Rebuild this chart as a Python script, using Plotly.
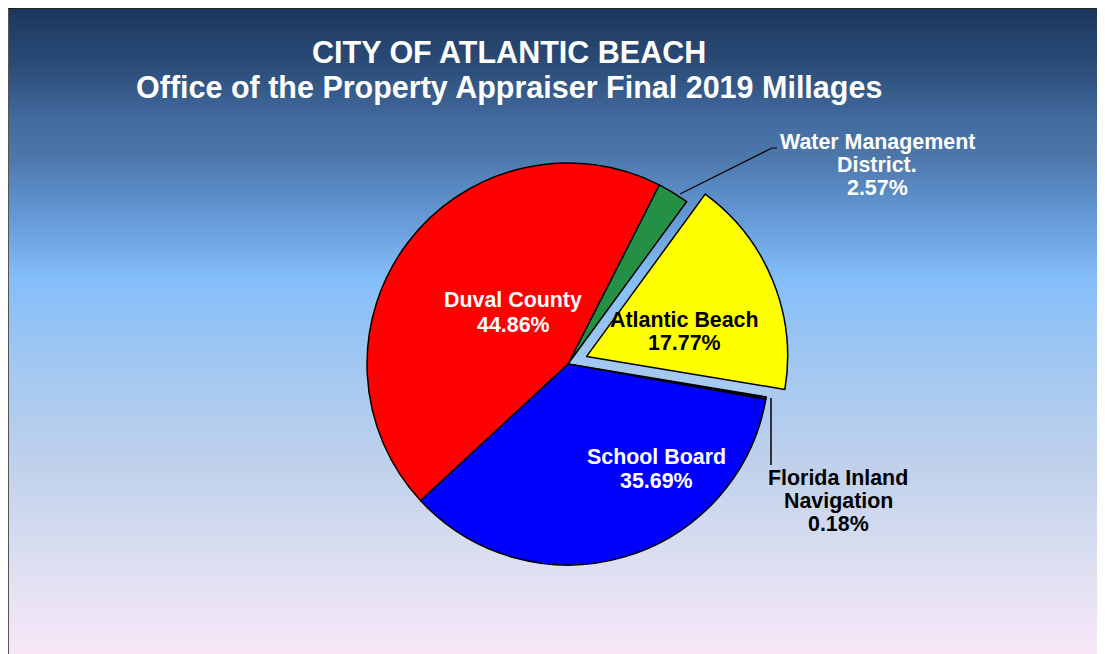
import zlib, struct, base64
import plotly.graph_objects as go

# ---------------- data ----------------
labels = ["Water Management<br>District.", "Atlantic Beach", "Florida Inland<br>Navigation",
          "School Board", "Duval County"]
values = [2.57, 17.77, 0.18, 35.69, 44.86]
colors = ["#239046", "#FFFF00", "#4B0B4B", "#0000FF", "#FF0000"]
pulls = [0, 0.1, 0, 0, 0]
label_font_colors = ["white", "black", "black", "white", "white"]
title_lines = ["CITY OF ATLANTIC BEACH", "Office of the Property Appraiser Final 2019 Millages"]

W, H = 1105, 654
OFF = 8  # page body margin
def px(x): return (x - OFF) / W
def py(y): return 1 - (y - OFF) / H

# ---------------- background gradient (styling) ----------------
stops = [(0, (27, 54, 94)), (60, (44, 78, 122)), (110, (66, 106, 158)), (150, (78, 120, 172)),
         (200, (96, 148, 208)), (270, (132, 190, 250)), (350, (160, 199, 242)),
         (450, (190, 208, 236)), (540, (216, 221, 240)), (600, (234, 227, 245)), (654, (250, 232, 248))]
def grad_png(h):
    rows = []
    for i in range(h):
        c = stops[-1][1]
        for j in range(len(stops) - 1):
            y0, c0 = stops[j]; y1, c1 = stops[j + 1]
            if y0 <= i <= y1:
                t = (i - y0) / (y1 - y0)
                c = tuple(int(round(c0[k] + (c1[k] - c0[k]) * t)) for k in range(3))
                break
        rows.append(b"\x00" + bytes(c) * 2)
    raw = b"".join(rows)
    def chunk(tag, data):
        return struct.pack(">I", len(data)) + tag + data + struct.pack(">I", zlib.crc32(tag + data) & 0xffffffff)
    png = (b"\x89PNG\r\n\x1a\n" + chunk(b"IHDR", struct.pack(">IIBBBBB", 2, h, 8, 2, 0, 0, 0))
           + chunk(b"IDAT", zlib.compress(raw)) + chunk(b"IEND", b""))
    return "data:image/png;base64," + base64.b64encode(png).decode()

FONT = "Liberation Sans, Arial, sans-serif"

# ---------------- pie ----------------
cx, cy, r = 568, 364, 201
half = r * 1.1
fig = go.Figure(go.Pie(
    labels=labels, values=values, sort=False, direction="clockwise", rotation=27,
    pull=pulls, marker=dict(colors=colors, line=dict(color="black", width=1.5)),
    textinfo="none", hoverinfo="label+percent", showlegend=False,
    domain=dict(x=[px(cx - half), px(cx + half)], y=[py(cy + half), py(cy - half)]),
))

# label positions (styling): centre x, first-line y, line spacing
label_pos = [(877, 142, 23), (684, 320, 23), (838, 478, 23), (656, 457, 24), (513, 300, 25)]
annotations = []
for lab, val, col, (lx, ly, sp) in zip(labels, values, label_font_colors, label_pos):
    lines = lab.split("<br>") + [f"{val:.2f}%"]
    for k, ln in enumerate(lines):
        annotations.append(dict(
            x=px(lx), y=py(ly + k * sp), xref="paper", yref="paper", showarrow=False,
            text=f"<b>{ln}</b>", font=dict(family=FONT, size=21.4, color=col),
            xanchor="center", yanchor="middle"))
for t, ty in zip(title_lines, [52, 88]):
    annotations.append(dict(
        x=px(509), y=py(ty), xref="paper", yref="paper", showarrow=False,
        text=f"<b>{t}</b>", font=dict(family=FONT, size=30.5, color="white"),
        xanchor="center", yanchor="middle"))

shapes = [
    dict(type="line", xref="paper", yref="paper", x0=0, y0=0, x1=0, y1=1,
         line=dict(color="#555555", width=2)),
    dict(type="line", xref="paper", yref="paper", x0=0, y0=1, x1=1, y1=1,
         line=dict(color="#222222", width=2)),
    dict(type="path", xref="paper", yref="paper",
         path=f"M {px(680)},{py(194)} L {px(772)},{py(148)} L {px(777)},{py(148)}",
         line=dict(color="black", width=1.2)),
    dict(type="line", xref="paper", yref="paper", x0=px(771), y0=py(398), x1=px(771), y1=py(465),
         line=dict(color="black", width=1.5)),
]

fig.update_layout(
    width=W, height=H, margin=dict(l=0, r=0, t=0, b=0),
    paper_bgcolor="white", plot_bgcolor="rgba(0,0,0,0)",
    annotations=annotations, shapes=shapes,
    images=[dict(source=grad_png(H), xref="paper", yref="paper", x=0, y=1,
                 sizex=1, sizey=1, xanchor="left", yanchor="top",
                 sizing="stretch", layer="below")],
)
fig.write_html("out.html")
